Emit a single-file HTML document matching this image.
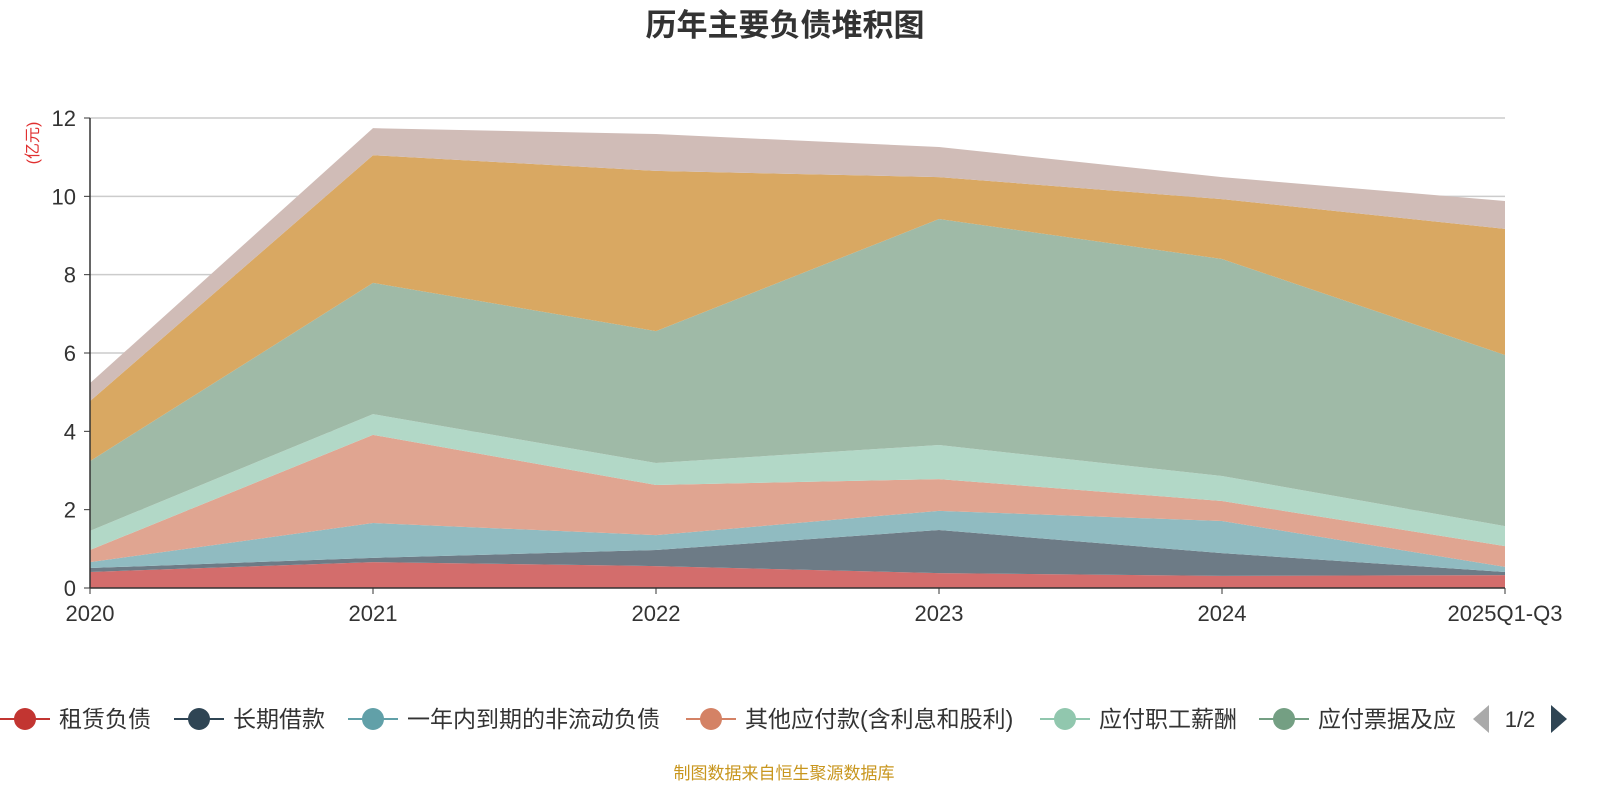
<!DOCTYPE html>
<html><head><meta charset="utf-8"><style>
body{margin:0;width:1600px;height:800px;background:#fff;font-family:"Liberation Sans","Noto Sans CJK SC",sans-serif;overflow:hidden}
</style></head><body>
<svg id="c" width="1600" height="800" xmlns="http://www.w3.org/2000/svg"></svg>
<script>
const categories=["2020","2021","2022","2023","2024","2025Q1-Q3"];
const seriesNames=["租赁负债","长期借款","一年内到期的非流动负债","其他应付款(含利息和股利)","应付职工薪酬","应付票据及应付账款","合同负债","短期借款"];
const s0=[0.41,0.66,0.56,0.38,0.31,0.33];
const s1=[0.10,0.11,0.41,1.10,0.58,0.08];
const s2=[0.15,0.89,0.38,0.49,0.82,0.13];
const s3=[0.31,2.25,1.28,0.81,0.51,0.53];
const s4=[0.49,0.53,0.56,0.87,0.64,0.51];
const s5=[1.78,3.35,3.37,5.77,5.54,4.37];
const s6=[1.53,3.26,4.09,1.07,1.53,3.22];
const s7=[0.46,0.69,0.94,0.77,0.56,0.71];
const yTicks=[0,2,4,6,8,10,12];
const series=[s0,s1,s2,s3,s4,s5,s6,s7];
const fills=["#d36d6c","#6d7b86","#90bbc1","#e0a591","#b2d8c7","#9fbaa7","#d9a862","#d0bcb7"];
const lineCols=["#c23531","#2f4554","#61a0a8","#d48265","#91c7ae","#749f83","#ca8622","#bda29a"];
const NS="http://www.w3.org/2000/svg";
const svg=document.getElementById('c');
const X0=90,X1=1505,Y0=588,Y1=118;
const x=i=>X0+(X1-X0)*i/(categories.length-1);
const y=v=>Y0-(Y0-Y1)*v/12;
function mk(t,a,txt){const e=document.createElementNS(NS,t);for(const k in a)e.setAttribute(k,a[k]);if(txt!=null)e.textContent=txt;svg.appendChild(e);return e;}
let e=mk('text',{x:785,y:36,'text-anchor':'middle','font-size':31,'font-weight':'bold',fill:'#333'},'历年主要负债堆积图');

e=mk('text',{x:38,y:143,'text-anchor':'middle','font-size':16,fill:'#e03030',transform:'rotate(-90 38 143)'},'(亿元)');

yTicks.forEach(t=>{
 if(t>0){const g=mk('line',{x1:X0,x2:X1,y1:y(t),y2:y(t),stroke:'#ccc','stroke-width':1.5});}
 const l=mk('text',{x:76,y:y(t)+8,'text-anchor':'end','font-size':22,fill:'#333'},t);
 
 const tk=mk('line',{x1:84,x2:X0,y1:y(t),y2:y(t),stroke:'#333'});
});
let cum=categories.map(()=>0);
series.forEach((s,k)=>{
 const lo=cum.slice();cum=cum.map((c,i)=>c+s[i]);
 let d='M'+categories.map((_,i)=>x(i)+','+y(cum[i])).join('L');
 for(let i=categories.length-1;i>=0;i--)d+='L'+x(i)+','+y(lo[i]);
 const p=mk('path',{d:d+'Z',fill:fills[k],stroke:'none'});
 
});
e=mk('line',{x1:X0,x2:X0,y1:Y1,y2:Y0,stroke:'#333','stroke-width':1.5});
e=mk('line',{x1:X0,x2:X1,y1:Y0,y2:Y0,stroke:'#333','stroke-width':1.5});
categories.forEach((c,i)=>{
 const tk=mk('line',{x1:x(i),x2:x(i),y1:Y0,y2:Y0+6,stroke:'#333'});
 const l=mk('text',{x:x(i),y:621,'text-anchor':'middle','font-size':22,fill:'#333'},c);
 
});
const legX=[0,174,348,686,1040,1259];
const shown=["租赁负债","长期借款","一年内到期的非流动负债","其他应付款(含利息和股利)","应付职工薪酬","应付票据及应"];
shown.forEach((n,i)=>{
 const g=document.createElementNS(NS,'g');svg.appendChild(g);
 
 const bx=legX[i];
 const a=document.createElementNS(NS,'line');a.setAttribute('x1',bx);a.setAttribute('x2',bx+50);a.setAttribute('y1',719);a.setAttribute('y2',719);a.setAttribute('stroke',lineCols[i]);a.setAttribute('stroke-width',2);g.appendChild(a);
 const cc=document.createElementNS(NS,'circle');cc.setAttribute('cx',bx+25);cc.setAttribute('cy',719);cc.setAttribute('r',11);cc.setAttribute('fill',lineCols[i]);g.appendChild(cc);
 const t=document.createElementNS(NS,'text');t.setAttribute('x',bx+59);t.setAttribute('y',727);t.setAttribute('font-size',23);t.setAttribute('fill','#333');t.textContent=n;g.appendChild(t);
});
e=mk('path',{d:'M1489,705L1489,733L1473,719Z',fill:'#aaa'});
e=mk('text',{x:1520,y:727,'text-anchor':'middle','font-size':22,fill:'#333'},'1/2');
e=mk('path',{d:'M1551,705L1551,733L1567,719Z',fill:'#2f4554'});
e=mk('text',{x:784,y:779,'text-anchor':'middle','font-size':17,fill:'#c8961e'},'制图数据来自恒生聚源数据库');
</script>
</body></html>
